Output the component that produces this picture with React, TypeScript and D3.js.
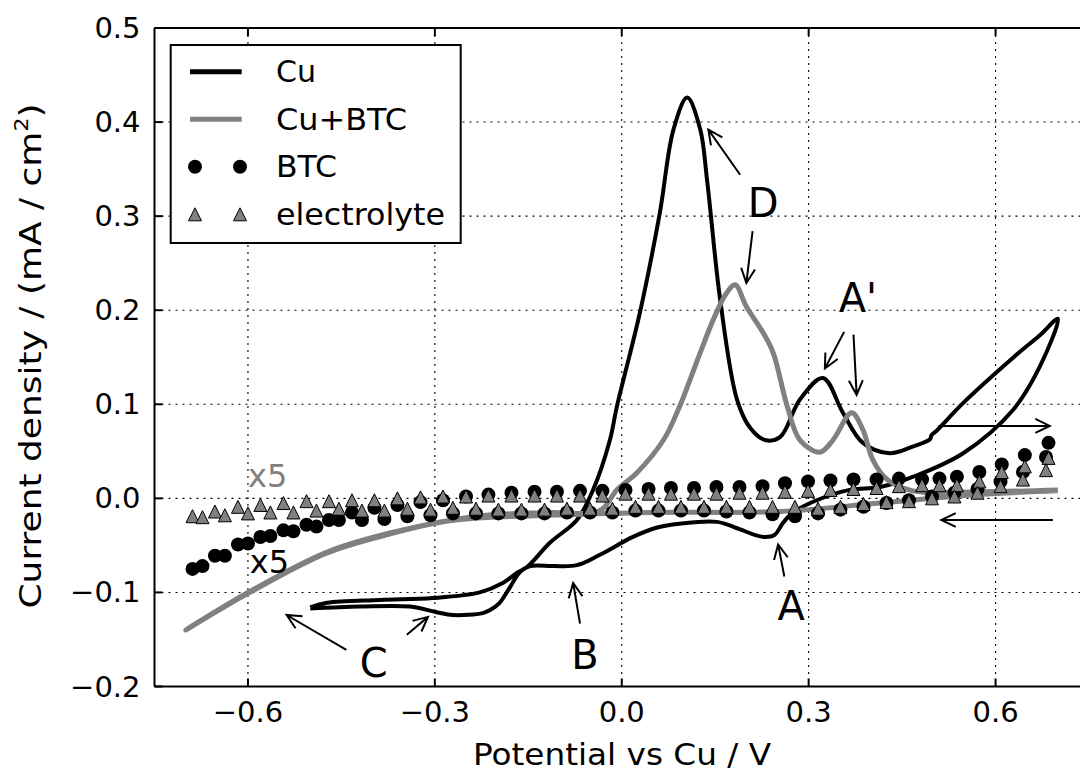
import React from 'react';
import * as d3 from 'd3';

// Cu electrode CV (starts at -0.5 V going anodic, back from 0.7 V vertex)
const cuPotential = [
  -0.500, -0.473, -0.388, -0.303, -0.228, -0.191, -0.168, -0.152, -0.115, -0.072,
  -0.046, -0.019, -0.008, 0.029, 0.061, 0.083, 0.105, 0.126, 0.137, 0.158,
  0.185, 0.206, 0.230, 0.254, 0.286, 0.323, 0.355, 0.387, 0.430, 0.467,
  0.495, 0.497, 0.504, 0.549, 0.629, 0.672, 0.700,
  0.671, 0.628, 0.548, 0.468, 0.415, 0.366, 0.313, 0.275, 0.259, 0.245,
  0.230, 0.214, 0.190, 0.153, 0.093, 0.057, 0.018, -0.035, -0.072, -0.110,
  -0.147, -0.163, -0.179, -0.196, -0.212, -0.223, -0.271, -0.297, -0.340, -0.420, -0.500
];
const cuCurrent = [
  -0.116, -0.111, -0.108, -0.106, -0.100, -0.090, -0.079, -0.073, -0.047, -0.023,
  0.009, 0.062, 0.097, 0.197, 0.303, 0.392, 0.426, 0.392, 0.338, 0.211,
  0.105, 0.075, 0.062, 0.065, 0.105, 0.128, 0.091, 0.059, 0.048, 0.055,
  0.063, 0.067, 0.071, 0.102, 0.150, 0.174, 0.191,
  0.140, 0.094, 0.048, 0.023, 0.012, 0.009, -0.002, -0.015, -0.026, -0.039,
  -0.041, -0.039, -0.033, -0.025, -0.027, -0.031, -0.041, -0.060, -0.071, -0.072,
  -0.072, -0.078, -0.094, -0.111, -0.119, -0.122, -0.124, -0.121, -0.115, -0.115, -0.117
];

// Cu+BTC CV (from 0.7 V vertex, cathodic to -0.7 V, then anodic back)
const cuBtcPotential = [
  0.700, 0.573, 0.414, 0.254, 0.045, -0.115, -0.232, -0.296, -0.367, -0.473, -0.597, -0.700,
  -0.597, -0.473, -0.367, -0.232, -0.115, -0.035, -0.008, 0.024, 0.067, 0.093,
  0.126, 0.147, 0.168, 0.182, 0.200, 0.227, 0.243, 0.266, 0.286, 0.318,
  0.339, 0.369, 0.387, 0.403, 0.426, 0.467, 0.575, 0.700
];
const cuBtcCurrent = [
  0.008, 0.004, -0.005, -0.014, -0.015, -0.018, -0.021, -0.026, -0.037, -0.058, -0.100, -0.140,
  -0.099, -0.057, -0.036, -0.019, -0.015, -0.013, 0.009, 0.027, 0.062, 0.098,
  0.155, 0.190, 0.218, 0.227, 0.204, 0.176, 0.155, 0.097, 0.062, 0.049,
  0.062, 0.091, 0.073, 0.041, 0.020, 0.008, 0.007, 0.009
];

// BTC and electrolyte (x5) – two sweeps sampled on their own potential grids
const fwdPotential = [
  -0.689, -0.653, -0.616, -0.580, -0.543, -0.506, -0.470, -0.433, -0.397, -0.360,
  -0.323, -0.287, -0.250, -0.214, -0.177, -0.140, -0.104, -0.067, -0.031, 0.006,
  0.043, 0.079, 0.116, 0.152, 0.189, 0.226, 0.262, 0.299, 0.335, 0.372,
  0.409, 0.445, 0.482, 0.510, 0.538, 0.574, 0.610, 0.647, 0.685
];
const btcFwd = [
  -0.075, -0.061, -0.049, -0.041, -0.034, -0.028, -0.023, -0.015, -0.010, -0.007,
  -0.004, -0.002, 0.002, 0.004, 0.006, 0.007, 0.007, 0.008, 0.008, 0.009,
  0.010, 0.011, 0.011, 0.012, 0.012, 0.013, 0.016, 0.018, 0.019, 0.020,
  0.020, 0.021, 0.020, 0.021, 0.023, 0.028, 0.036, 0.046, 0.059
];
const elecFwd = [
  -0.019, -0.014, -0.009, -0.007, -0.005, -0.003, -0.003, -0.002, -0.002, 0.000,
  0.001, 0.002, 0.002, 0.003, 0.003, 0.003, 0.003, 0.003, 0.003, 0.005,
  0.005, 0.005, 0.005, 0.005, 0.006, 0.006, 0.007, 0.008, 0.009, 0.010,
  0.011, 0.013, 0.014, 0.014, 0.014, 0.018, 0.028, 0.034, 0.043
];
const revPotential = [
  -0.673, -0.637, -0.600, -0.564, -0.527, -0.490, -0.454, -0.417, -0.381, -0.344,
  -0.307, -0.271, -0.234, -0.198, -0.161, -0.124, -0.088, -0.051, -0.015, 0.022,
  0.059, 0.095, 0.132, 0.168, 0.205, 0.242, 0.278, 0.315, 0.351, 0.388,
  0.425, 0.461, 0.498, 0.534, 0.571, 0.608, 0.644, 0.681
];
const btcRev = [
  -0.072, -0.061, -0.048, -0.040, -0.035, -0.030, -0.023, -0.023, -0.022, -0.019,
  -0.018, -0.016, -0.016, -0.016, -0.016, -0.016, -0.015, -0.015, -0.015, -0.013,
  -0.013, -0.013, -0.013, -0.014, -0.015, -0.017, -0.019, -0.016, -0.012, -0.009,
  -0.005, -0.002, 0.002, 0.006, 0.010, 0.018, 0.028, 0.044
];
const elecRev = [
  -0.020, -0.018, -0.016, -0.015, -0.015, -0.013, -0.011, -0.013, -0.013, -0.011,
  -0.012, -0.010, -0.011, -0.012, -0.012, -0.012, -0.011, -0.011, -0.011, -0.009,
  -0.009, -0.009, -0.009, -0.009, -0.009, -0.009, -0.009, -0.011, -0.009, -0.006,
  -0.004, -0.003, 0.000, 0.002, 0.006, 0.013, 0.020, 0.030
];

const xTicks = [-0.6, -0.3, 0.0, 0.3, 0.6];
const yTicks = [-0.2, -0.1, 0.0, 0.1, 0.2, 0.3, 0.4, 0.5];
const legendNames = ['Cu', 'Cu+BTC', 'BTC', 'electrolyte'];

// annotations in data coordinates: label position and arrows [fromV, fromJ, toV, toJ]
const labels = [
  { text: 'D', v: 0.227, j: 0.314 },
  { text: "A'", v: 0.379, j: 0.213 },
  { text: 'A', v: 0.272, j: -0.114 },
  { text: 'B', v: -0.059, j: -0.166 },
  { text: 'C', v: -0.398, j: -0.175 },
];
const arrows = [
  [0.190, 0.344, 0.139, 0.392],
  [0.210, 0.284, 0.200, 0.229],
  [0.357, 0.177, 0.326, 0.138],
  [0.372, 0.174, 0.377, 0.110],
  [0.261, -0.083, 0.251, -0.049],
  [-0.067, -0.133, -0.078, -0.090],
  [-0.442, -0.161, -0.538, -0.124],
  [-0.345, -0.145, -0.311, -0.126],
  [0.508, 0.077, 0.687, 0.077],
  [0.692, -0.023, 0.513, -0.023],
];

const W = 1080;
const H = 771;
const left = 154.5, right = 1089, top = 28, bottom = 686.5;
const font = '"DejaVu Sans", sans-serif';
const GRAY = '#808080';

const x = d3.scaleLinear().domain([-0.75, 0.75]).range([left, right]);
const y = d3.scaleLinear().domain([-0.2, 0.5]).range([bottom, top]);
const fmt = d3.format('.1f');

const line = d3.line<[number, number]>()
  .x(d => x(d[0]))
  .y(d => y(d[1]))
  .curve(d3.curveCatmullRom.alpha(0.5));

const zip = (a: number[], b: number[]) => a.map((v, i) => [v, b[i]] as [number, number]);

const triPath = (cx: number, cy: number, r: number) =>
  `M${cx},${cy - r}L${cx - r},${cy + r}L${cx + r},${cy + r}Z`;

function Arrow({ a }: { a: number[] }) {
  const x1 = x(a[0]), y1 = y(a[1]), x2 = x(a[2]), y2 = y(a[3]);
  const ang = Math.atan2(y2 - y1, x2 - x1);
  const len = 16, spread = 0.45;
  const h1 = [x2 - len * Math.cos(ang - spread), y2 - len * Math.sin(ang - spread)];
  const h2 = [x2 - len * Math.cos(ang + spread), y2 - len * Math.sin(ang + spread)];
  return (
    <path
      d={`M${x1},${y1}L${x2},${y2}M${h1[0]},${h1[1]}L${x2},${y2}L${h2[0]},${h2[1]}`}
      fill="none" stroke="#000" strokeWidth={2}
    />
  );
}

export default function App() {
  const cu = zip(cuPotential, cuCurrent);
  const cuBtc = zip(cuBtcPotential, cuBtcCurrent);
  const btc = [...zip(fwdPotential, btcFwd), ...zip(revPotential, btcRev)];
  const elec = [...zip(fwdPotential, elecFwd), ...zip(revPotential, elecRev)];

  const legendY = [71.7, 119.3, 166.7, 214.3];
  const legendLen = [40, 131, 61, 169];

  return (
    <svg width={W} height={H} style={{ position: 'absolute', left: 0, top: 0, display: 'block', background: '#fff' }}
      fontFamily={font}>
      <defs>
        <clipPath id="plot">
          <rect x={left} y={top} width={right - left} height={bottom - top} />
        </clipPath>
      </defs>
      <rect x={0} y={0} width={W} height={H} fill="#fff" />

      {/* grid */}
      <g stroke="#000" strokeWidth={1.1} strokeDasharray="2,5">
        {xTicks.map(t => <line key={'gx' + t} x1={x(t)} x2={x(t)} y1={top} y2={bottom} />)}
        {yTicks.map(t => <line key={'gy' + t} x1={left} x2={right} y1={y(t)} y2={y(t)} />)}
      </g>

      <g clipPath="url(#plot)">
        <path d={line(cu) || ''} fill="none" stroke="#000" strokeWidth={4} strokeLinejoin="round" />
        <path d={line(cuBtc) || ''} fill="none" stroke={GRAY} strokeWidth={5} strokeLinejoin="round" />
        {btc.map((d, i) => <circle key={'b' + i} cx={x(d[0])} cy={y(d[1])} r={7} fill="#000" />)}
        {elec.map((d, i) => (
          <path key={'e' + i} d={triPath(x(d[0]), y(d[1]), 6.5)} fill={GRAY} stroke="#000" strokeWidth={1} />
        ))}
      </g>

      {/* annotations */}
      <text x={x(-0.6)} y={y(0.012)} fontSize={32} fill={GRAY}>x5</text>
      <text x={x(-0.597)} y={y(-0.079)} fontSize={32} fill="#000">x5</text>
      {labels.map(l => (
        <text key={l.text} x={x(l.v)} y={y(l.j)} fontSize={40} textAnchor="middle" dominantBaseline="central">{l.text}</text>
      ))}
      {arrows.map((a, i) => <Arrow key={'a' + i} a={a} />)}

      {/* axes frame and ticks */}
      <g stroke="#000" strokeWidth={2}>
        <line x1={left} x2={left} y1={top} y2={bottom} />
        <line x1={left} x2={right} y1={bottom} y2={bottom} />
        <line x1={left} x2={right} y1={top} y2={top} />
        <line x1={right} x2={right} y1={top} y2={bottom} />
        {xTicks.map(t => (
          <g key={'tx' + t}>
            <line x1={x(t)} x2={x(t)} y1={bottom} y2={bottom - 8} />
            <line x1={x(t)} x2={x(t)} y1={top} y2={top + 8} />
          </g>
        ))}
        {yTicks.map(t => (
          <g key={'ty' + t}>
            <line x1={left} x2={left + 8} y1={y(t)} y2={y(t)} />
            <line x1={right} x2={right - 8} y1={y(t)} y2={y(t)} />
          </g>
        ))}
      </g>
      <g fontSize={29} fill="#000">
        {xTicks.map(t => (
          <text key={'lx' + t} x={x(t)} y={bottom + 35} textAnchor="middle">{fmt(t)}</text>
        ))}
        {yTicks.map(t => (
          <text key={'ly' + t} x={left - 14} y={y(t)} textAnchor="end" dominantBaseline="central">{fmt(t)}</text>
        ))}
      </g>
      <text x={622} y={765} fontSize={30} textAnchor="middle" textLength={298} lengthAdjust="spacingAndGlyphs">
        Potential vs Cu / V
      </text>
      <text transform={`translate(41,356) rotate(-90)`} fontSize={31} textAnchor="middle"
        textLength={505} lengthAdjust="spacingAndGlyphs">
        Current density / (mA / cm<tspan fontSize={19} dy={-13}>2</tspan><tspan dy={13}>)</tspan>
      </text>

      {/* legend */}
      <g>
        <rect x={170.7} y={45} width={290} height={198} fill="#fff" stroke="#000" strokeWidth={2} />
        <line x1={190} x2={241.7} y1={legendY[0]} y2={legendY[0]} stroke="#000" strokeWidth={5} />
        <line x1={190} x2={241.7} y1={legendY[1]} y2={legendY[1]} stroke={GRAY} strokeWidth={5} />
        <circle cx={195} cy={legendY[2]} r={7} fill="#000" />
        <circle cx={240} cy={legendY[2]} r={7} fill="#000" />
        <path d={triPath(195, legendY[3], 6.5)} fill={GRAY} stroke="#000" strokeWidth={1} />
        <path d={triPath(240, legendY[3], 6.5)} fill={GRAY} stroke="#000" strokeWidth={1} />
        {legendNames.map((s, i) => (
          <text key={s} x={276} y={legendY[i]} fontSize={30} dominantBaseline="central"
            textLength={legendLen[i]} lengthAdjust="spacingAndGlyphs">{s}</text>
        ))}
      </g>
    </svg>
  );
}
